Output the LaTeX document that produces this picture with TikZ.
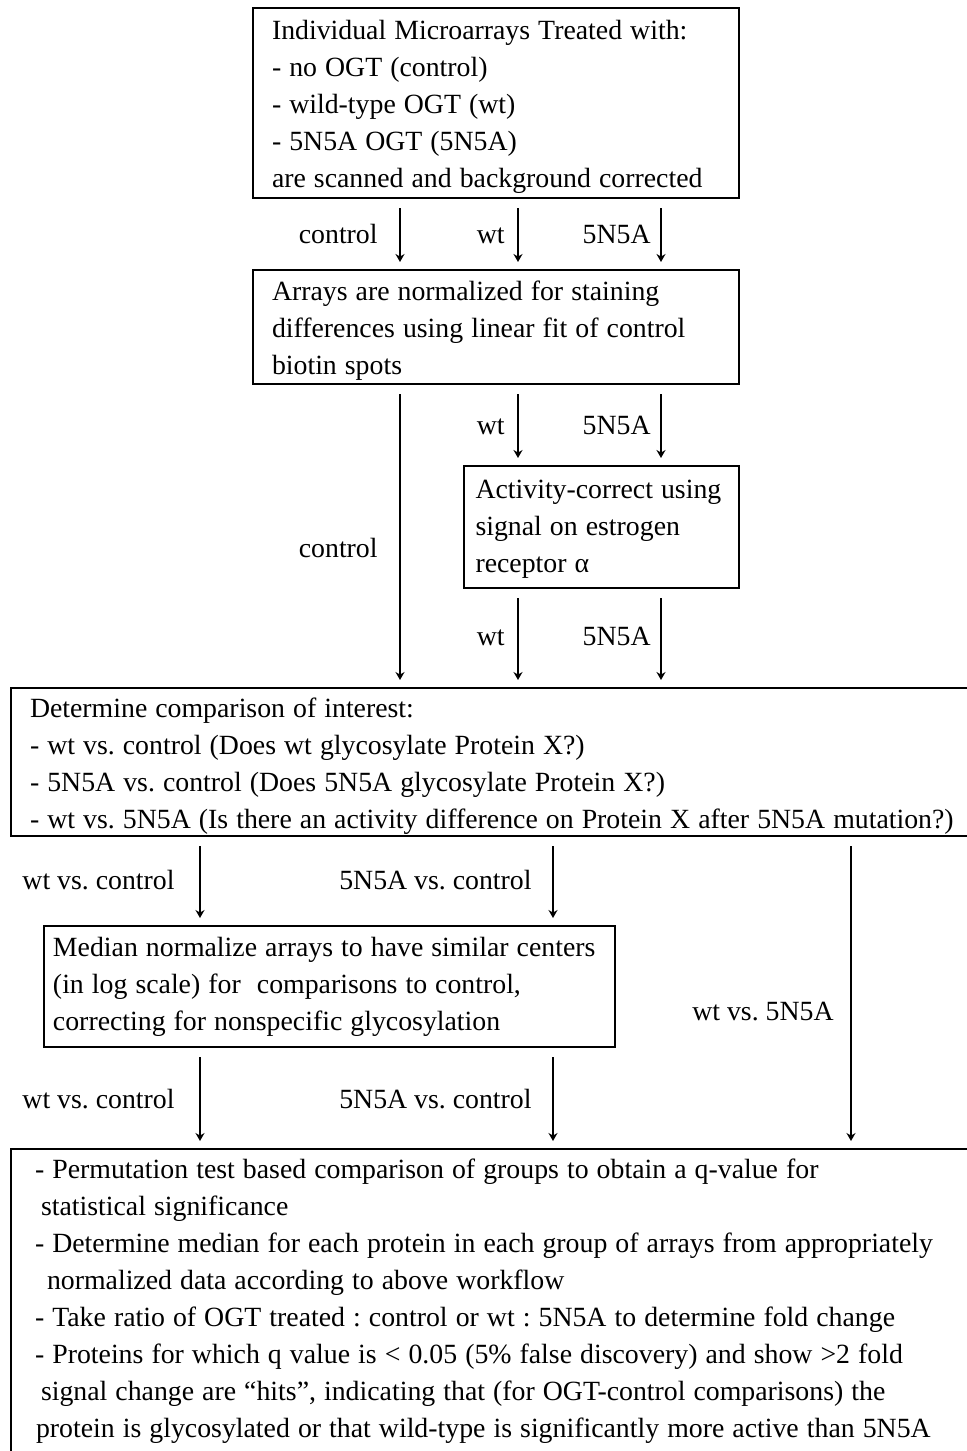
\documentclass[tikz,border=0pt]{standalone}
\usepackage{fontspec}
\setmainfont{Liberation Serif}
\usetikzlibrary{arrows.meta,calc}
\newcommand\fstrut[1]{\rule{0pt}{#1}}
\newcommand\ws{\spaceskip=0.29em\relax\xspaceskip=0.29em\relax}
\begin{document}
\frenchspacing
\begin{tikzpicture}[x=0.5pt,y=-0.5pt,
  box/.style={draw, line width=1pt, align=left, font=\fontsize{13.9}{18.5}\selectfont\frenchspacing, inner ysep=0pt, anchor=west},
  lbl/.style={font=\fontsize{13.9}{18.5}\selectfont\frenchspacing, inner sep=0pt, text height=9.5pt, text depth=2.5pt},
  arr/.style={line width=0.9pt, -{Stealth[length=4pt,width=4.5pt,inset=1.3pt]}, shorten <=4.5pt, shorten >=3.5pt}]
\useasboundingbox (0,0) rectangle (967,1451);
\coordinate (cA) at (400,0);
\coordinate (cB) at (518,0);
\coordinate (cC) at (661,0);
\coordinate (cD) at (200,0);
\coordinate (cE) at (553,0);
\coordinate (cF) at (851,0);
% boxes
\node[box, minimum width=243pt, minimum height=95pt, inner xsep=9.5pt, text width=224pt] (b1) at (252,103) {\ws\fstrut{13.5pt}Individual Microarrays Treated with:\\- no OGT (control)\\- wild-type OGT (wt)\\- 5N5A OGT (5N5A)\\are scanned and background corrected};
\node[box, minimum width=243pt, minimum height=57pt, inner xsep=9.5pt, text width=224pt] (b2) at (252,327) {\ws\fstrut{13.5pt}Arrays are normalized for staining\\differences using linear fit of control\\biotin spots};
\node[box, minimum width=137.5pt, minimum height=61pt, inner xsep=5.5pt, text width=126pt] (b3) at (463,527) {\ws\fstrut{11.5pt}Activity-correct using\\signal on estrogen\\receptor α};
\node[box, minimum width=490pt, minimum height=74pt, inner xsep=9.5pt, text width=480pt] (b4) at (10,762) {\ws\fstrut{13.5pt}Determine comparison of interest:\\- wt vs. control (Does wt glycosylate Protein X?)\\- 5N5A vs. control (Does 5N5A glycosylate Protein X?)\\- wt vs. 5N5A (Is there an activity difference on Protein X after 5N5A mutation?)};
\node[box, minimum width=285.5pt, minimum height=60.5pt, inner xsep=4.5pt, text width=276.5pt] (b5) at (43,986.5) {\ws\mbox{Median normalize arrays to have similar centers}\\(in log scale) for\ \ comparisons to control,\\correcting for nonspecific glycosylation};
\node[box, anchor=north west, minimum width=490pt, inner xsep=0pt, inner ysep=5pt, text width=490pt] (b6) at (10,1148) {\ws\hspace{12pt}- Permutation test based comparison of groups to obtain a q-value for\\\hspace{15pt}statistical significance\\\hspace{12pt}- Determine median for each protein in each group of arrays from appropriately\\\hspace{18pt}normalized data according to above workflow\\\hspace{12pt}- Take ratio of OGT treated : control or wt : 5N5A to determine fold change\\\hspace{12pt}- Proteins for which q value is < 0.05 (5\% false discovery) and show >2 fold\\\hspace{15pt}signal change are “hits”, indicating that (for OGT-control comparisons) the\\\hspace{12.5pt}protein is glycosylated or that wild-type is significantly more active than 5N5A\\[6pt]};
% labels
\node[lbl, anchor=east] (l1a) at (378,236) {control};
\node[lbl, anchor=east] (l1b) at (505,236) {wt};
\node[lbl, anchor=east] (l1c) at (651,236) {5N5A};
\node[lbl, anchor=east] (l2a) at (378,550) {control};
\node[lbl, anchor=east] (l2b) at (505,427) {wt};
\node[lbl, anchor=east] (l2c) at (651,427) {5N5A};
\node[lbl, anchor=east] (l3b) at (505,638) {wt};
\node[lbl, anchor=east] (l3c) at (651,638) {5N5A};
\node[lbl, anchor=east] (l4a) at (175,882) {wt vs. control};
\node[lbl, anchor=east] (l4b) at (532,882) {5N5A vs. control};
\node[lbl, anchor=east] (l4c) at (834,1013) {wt vs. 5N5A};
\node[lbl, anchor=east] (l5a) at (175,1101) {wt vs. control};
\node[lbl, anchor=east] (l5b) at (532,1101) {5N5A vs. control};
% arrows
\draw[arr] (b1.south -| cA) -- (b2.north -| cA);
\draw[arr] (b1.south -| cB) -- (b2.north -| cB);
\draw[arr] (b1.south -| cC) -- (b2.north -| cC);
\draw[arr] (b2.south -| cA) -- (b4.north -| cA);
\draw[arr] (b2.south -| cB) -- (b3.north -| cB);
\draw[arr] (b2.south -| cC) -- (b3.north -| cC);
\draw[arr] (b3.south -| cB) -- (b4.north -| cB);
\draw[arr] (b3.south -| cC) -- (b4.north -| cC);
\draw[arr] (b4.south -| cD) -- (b5.north -| cD);
\draw[arr] (b4.south -| cE) -- (b5.north -| cE);
\draw[arr] (b4.south -| cF) -- (b6.north -| cF);
\draw[arr] (b5.south -| cD) -- (b6.north -| cD);
\draw[arr] (b5.south -| cE) -- (b6.north -| cE);
\end{tikzpicture}
\end{document}
